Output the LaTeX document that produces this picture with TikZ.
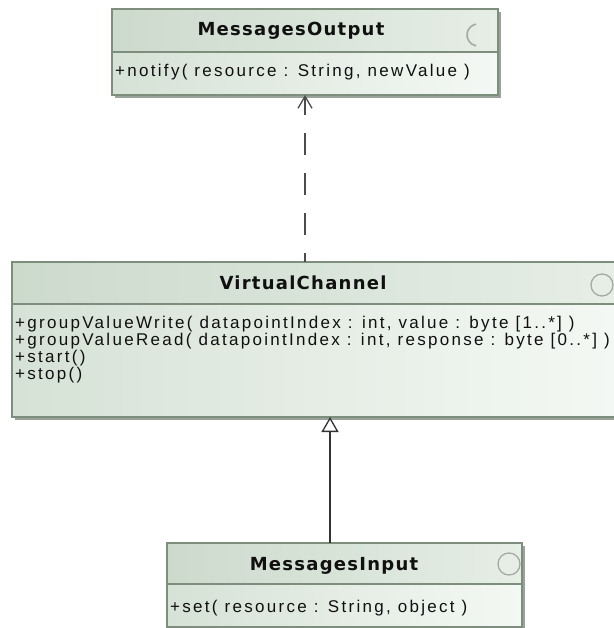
\documentclass[tikz,border=0pt]{standalone}
\usepackage{fontspec}
\setmainfont{Liberation Sans}[LetterSpace=13.5]
\newfontfamily\titlefont{DejaVu Sans}[LetterSpace=7]
\usetikzlibrary{arrows.meta,shadows}
\definecolor{headL}{HTML}{CCDACC}
\definecolor{headR}{HTML}{E6EEE6}
\definecolor{bodyL}{HTML}{D6E2D6}
\definecolor{bodyR}{HTML}{F4F8F4}
\definecolor{boxline}{HTML}{7D8E7D}
\definecolor{shade}{HTML}{9AA39A}
\definecolor{txt}{HTML}{101010}
\definecolor{iconline}{HTML}{A3ABA3}
\begin{document}
\begin{tikzpicture}
  [x=1pt,y=-1pt,every node/.style={inner sep=0pt},
   head/.style={draw=boxline,line width=1.3pt,outer sep=0pt,anchor=north west,
     left color=headL,right color=headR,
     drop shadow={shadow xshift=3pt,shadow yshift=-3pt,fill=shade,opacity=1}},
   body/.style={head,left color=bodyL,right color=bodyR}]
  \tikzstyle{title} = [font=\titlefont\bfseries\fontsize{18}{20}\selectfont,text=txt,anchor=base]
  \tikzstyle{ops} = [font=\fontsize{17}{18}\selectfont,text=txt,anchor=base west]
  \tikzstyle{icon} = [circle,minimum size=22pt,draw=iconline,line width=1.3pt,fill=headR]
  \tikzstyle{depend} = [draw=black!70,line width=1.3pt,dash pattern=on 22pt off 18pt,dash phase=13pt,
    -{Straight Barb[length=12pt,width=14pt]}]
  \tikzstyle{inherit} = [draw=black!80,line width=1.3pt,-{Triangle[open,length=15pt,width=17pt,fill=white]}]
  \useasboundingbox (0,0) rectangle (613,628);

  \node[head,minimum width=386pt,minimum height=43pt] (outHead) at (112,9) {};
  \node[body,minimum width=386pt,minimum height=43pt] (outBody) at (outHead.south west) {};
  \node[title] (outName) at (291,36) {MessagesOutput};
  \node[ops] (outOp) at (115,77) {+notify( resource : String, newValue )};
  \draw[iconline,line width=1.6pt] (478,35) ++(100:11) arc[start angle=100,end angle=260,radius=11];

  \node[head,minimum width=604pt,minimum height=42pt] (vcHead) at (12,262) {};
  \node[body,minimum width=604pt,minimum height=113pt] (vcBody) at (vcHead.south west) {};
  \node[title] (vcName) at (303,289) {VirtualChannel};
  \foreach \op [count=\i] in {{+groupValueWrite( datapointIndex : int, value : byte [1..*] )},
      {+groupValueRead( datapointIndex : int, response : byte [0..*] )},{+start()},{+stop()}}
    \node[ops] (vcOp\i) at (15,311+17*\i) {\op};
  \node[icon] (vcIcon) at (602,285) {};

  \node[head,minimum width=355pt,minimum height=41pt] (inHead) at (167,543) {};
  \node[body,minimum width=355pt,minimum height=43pt] (inBody) at (inHead.south west) {};
  \node[title] (inName) at (334,570) {MessagesInput};
  \node[ops] (inOp) at (170,612) {+set( resource : String, object )};
  \node[icon] (inIcon) at (509,564) {};

  \draw[depend] (vcHead.north -| outBody.south) -- (outBody.south);
  \draw[inherit] ([xshift=-14.5pt]inHead.north) -- ([xshift=-14.5pt]inHead.north |- vcBody.south);
\end{tikzpicture}
\end{document}
